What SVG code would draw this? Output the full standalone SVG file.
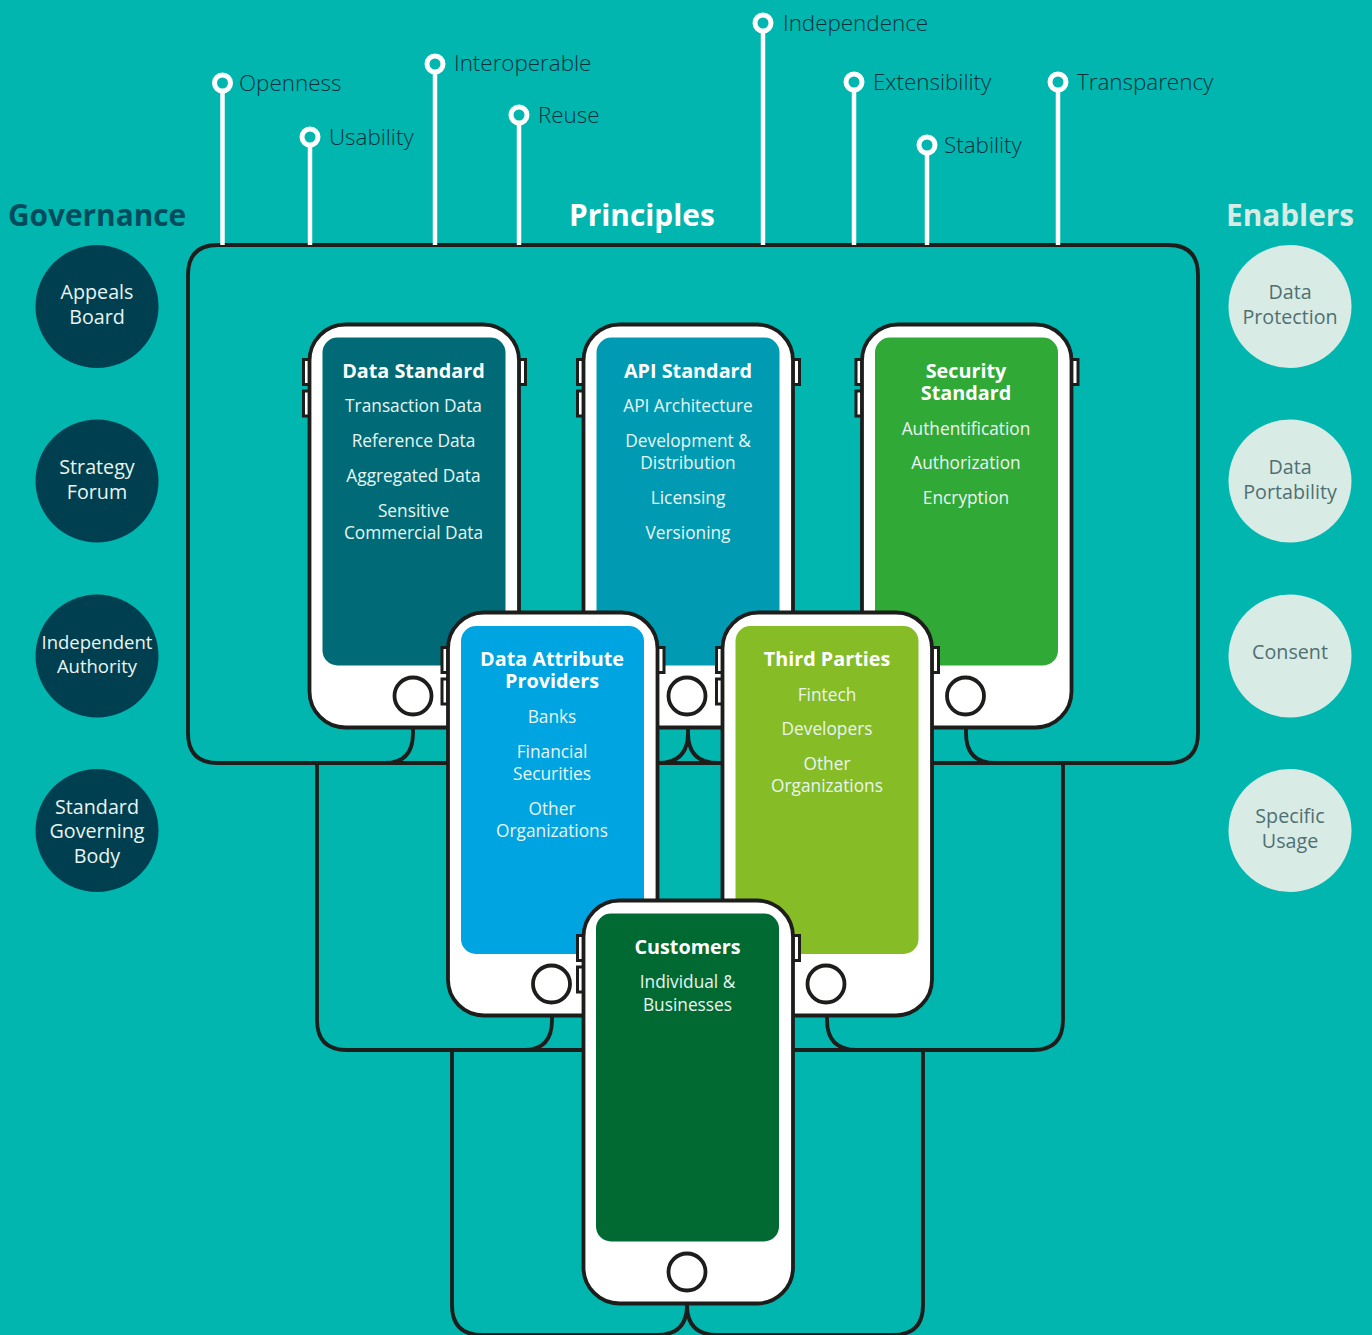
<svg xmlns="http://www.w3.org/2000/svg" width="1372" height="1335" viewBox="0 0 1372 1335">
<style>
text{font-family:"Open Sans","Noto Sans","DejaVu Sans",sans-serif}
.bg{fill:#00b6af}
.ln{fill:none;stroke:#1d1d1b;stroke-width:3.8}
.body{fill:#fff;stroke:#1d1d1b;stroke-width:3.8}
.btn{fill:#fff;stroke:#1d1d1b;stroke-width:3}
.pl{stroke:#fff;stroke-width:4.5;fill:none}
.pc{stroke:#fff;stroke-width:5;fill:none}
.t{font-weight:700;font-size:19.8px;fill:#fff;text-anchor:middle}
.s{font-size:17.3px;fill:#e8f5f3;text-anchor:middle}
.p{font-size:22.4px;font-weight:300;fill:#04303c}
.h{font-size:29.8px;font-weight:700}
.g{fill:#003f4f}
.e{fill:#d9ebe5}
.gt{font-size:19.7px;fill:#e8f5f3;text-anchor:middle}
.et{font-size:19.7px;fill:#4f7072;text-anchor:middle}
</style>
<defs>
<g id="chrome">
<rect class="btn" x="303.500" y="359.500" width="6" height="25"/>
<rect class="btn" x="303.500" y="391" width="6" height="25"/>
<rect class="btn" x="519" y="359.500" width="6.500" height="25"/>
<rect class="body" x="309.500" y="324.500" width="209.500" height="403" rx="36"/>
<circle class="body" cx="413" cy="696" r="18.500"/>
</g>
</defs>
<rect class="bg" width="1372" height="1335"/>

<g id="connectors">
<path class="ln" d="M413 727V733Q413 763 385 763H218Q188 763 188 733V275Q188 245 218 245H1168Q1198 245 1198 275V733Q1198 763 1168 763H995Q966 763 966 733V727"/>
<path class="ln" d="M385 763H995"/>
<path class="ln" d="M688 727V733Q688 763 658 763M688 733Q688 763 718 763"/>
<path class="ln" d="M317 763V1020Q317 1050 347 1050H524Q552 1050 552 1020V1016"/>
<path class="ln" d="M1063 763V1020Q1063 1050 1033 1050H857Q827 1050 827 1020V1016"/>
<path class="ln" d="M524 1050H857"/>
<path class="ln" d="M452 1050V1305Q452 1335 482 1335H657Q687 1335 687 1305V1304M687 1305Q687 1335 717 1335H893Q923 1335 923 1305V1050"/>
</g>

<g id="pins">
<g id="pin-openness"><path class="pl" d="M222.500 91V245"/><circle class="pc" cx="222.500" cy="83" r="8"/><text class="p" x="239" y="91">Openness</text></g>
<g id="pin-usability"><path class="pl" d="M310 145V245"/><circle class="pc" cx="310" cy="137" r="8"/><text class="p" x="329" y="145">Usability</text></g>
<g id="pin-interoperable"><path class="pl" d="M435 72V245"/><circle class="pc" cx="435" cy="64" r="8"/><text class="p" x="454" y="71">Interoperable</text></g>
<g id="pin-reuse"><path class="pl" d="M519 123V245"/><circle class="pc" cx="519" cy="115" r="8"/><text class="p" x="538" y="123">Reuse</text></g>
<g id="pin-independence"><path class="pl" d="M763 31V245"/><circle class="pc" cx="763" cy="23" r="8"/><text class="p" x="783" y="31">Independence</text></g>
<g id="pin-extensibility"><path class="pl" d="M854 90V245"/><circle class="pc" cx="854" cy="82" r="8"/><text class="p" x="873" y="90">Extensibility</text></g>
<g id="pin-stability"><path class="pl" d="M927 153V245"/><circle class="pc" cx="927" cy="145" r="8"/><text class="p" x="944" y="153">Stability</text></g>
<g id="pin-transparency"><path class="pl" d="M1058 90V245"/><circle class="pc" cx="1058" cy="82" r="8"/><text class="p" x="1077" y="90">Transparency</text></g>
</g>

<text class="h" x="8" y="226" fill="#004b5c">Governance</text>
<text class="h" x="569" y="226" fill="#fff">Principles</text>
<text class="h" x="1226" y="226" fill="#d9ebe5">Enablers</text>

<g id="governance-appeals"><circle class="g" cx="97" cy="306.500" r="61.500"/><text class="gt" x="97" y="299">Appeals</text><text class="gt" x="97" y="324">Board</text></g>
<g id="governance-strategy"><circle class="g" cx="97" cy="481" r="61.500"/><text class="gt" x="97" y="474">Strategy</text><text class="gt" x="97" y="499">Forum</text></g>
<g id="governance-authority"><circle class="g" cx="97" cy="656" r="61.500"/><text class="gt" x="97" y="649" style="font-size:18.500px">Independent</text><text class="gt" x="97" y="673" style="font-size:18.500px">Authority</text></g>
<g id="governance-body"><circle class="g" cx="97" cy="830.500" r="61.500"/><text class="gt" x="97" y="814">Standard</text><text class="gt" x="97" y="838">Governing</text><text class="gt" x="97" y="863">Body</text></g>

<g id="enabler-protection"><circle class="e" cx="1290" cy="306.500" r="61.500"/><text class="et" x="1290" y="299">Data</text><text class="et" x="1290" y="324">Protection</text></g>
<g id="enabler-portability"><circle class="e" cx="1290" cy="481" r="61.500"/><text class="et" x="1290" y="474">Data</text><text class="et" x="1290" y="499">Portability</text></g>
<g id="enabler-consent"><circle class="e" cx="1290" cy="656" r="61.500"/><text class="et" x="1290" y="659">Consent</text></g>
<g id="enabler-usage"><circle class="e" cx="1290" cy="830.500" r="61.500"/><text class="et" x="1290" y="823">Specific</text><text class="et" x="1290" y="848">Usage</text></g>

<g id="phone-data-standard">
<use href="#chrome"/>
<rect x="322.500" y="337.500" width="183" height="328" rx="15" fill="#006b77"/>
<text class="t" x="413.500" y="378">Data Standard</text>
<text class="s" x="413.500" y="412">Transaction Data</text>
<text class="s" x="413.500" y="447">Reference Data</text>
<text class="s" x="413.500" y="482">Aggregated Data</text>
<text class="s" x="413.500" y="517">Sensitive</text>
<text class="s" x="413.500" y="539">Commercial Data</text>
</g>
<g id="phone-api-standard">
<use href="#chrome" x="274"/>
<rect x="596.500" y="337.500" width="183" height="328" rx="15" fill="#009bb3"/>
<text class="t" x="688" y="378">API Standard</text>
<text class="s" x="688" y="412">API Architecture</text>
<text class="s" x="688" y="447">Development &amp;</text>
<text class="s" x="688" y="469">Distribution</text>
<text class="s" x="688" y="504">Licensing</text>
<text class="s" x="688" y="539">Versioning</text>
</g>
<g id="phone-security-standard">
<use href="#chrome" x="552.500"/>
<rect x="875" y="337.500" width="183" height="328" rx="15" fill="#31a936"/>
<text class="t" x="966" y="378">Security</text>
<text class="t" x="966" y="400">Standard</text>
<text class="s" x="966" y="435">Authentification</text>
<text class="s" x="966" y="469">Authorization</text>
<text class="s" x="966" y="504">Encryption</text>
</g>
<g id="phone-data-attribute-providers">
<use href="#chrome" x="138.500" y="288"/>
<rect x="461" y="626" width="183" height="328" rx="15" fill="#00a4e0"/>
<text class="t" x="552" y="666">Data Attribute</text>
<text class="t" x="552" y="688">Providers</text>
<text class="s" x="552" y="723">Banks</text>
<text class="s" x="552" y="758">Financial</text>
<text class="s" x="552" y="780">Securities</text>
<text class="s" x="552" y="815">Other</text>
<text class="s" x="552" y="837">Organizations</text>
</g>
<g id="phone-third-parties">
<use href="#chrome" x="413" y="288"/>
<rect x="735.500" y="626" width="183" height="328" rx="15" fill="#86bc25"/>
<text class="t" x="827" y="666">Third Parties</text>
<text class="s" x="827" y="701">Fintech</text>
<text class="s" x="827" y="735">Developers</text>
<text class="s" x="827" y="770">Other</text>
<text class="s" x="827" y="792">Organizations</text>
</g>
<g id="phone-customers">
<use href="#chrome" x="274" y="576"/>
<rect x="596" y="913.500" width="183" height="328" rx="15" fill="#006a32"/>
<text class="t" x="687.500" y="954">Customers</text>
<text class="s" x="687.500" y="988">Individual &amp;</text>
<text class="s" x="687.500" y="1011">Businesses</text>
</g>
</svg>
